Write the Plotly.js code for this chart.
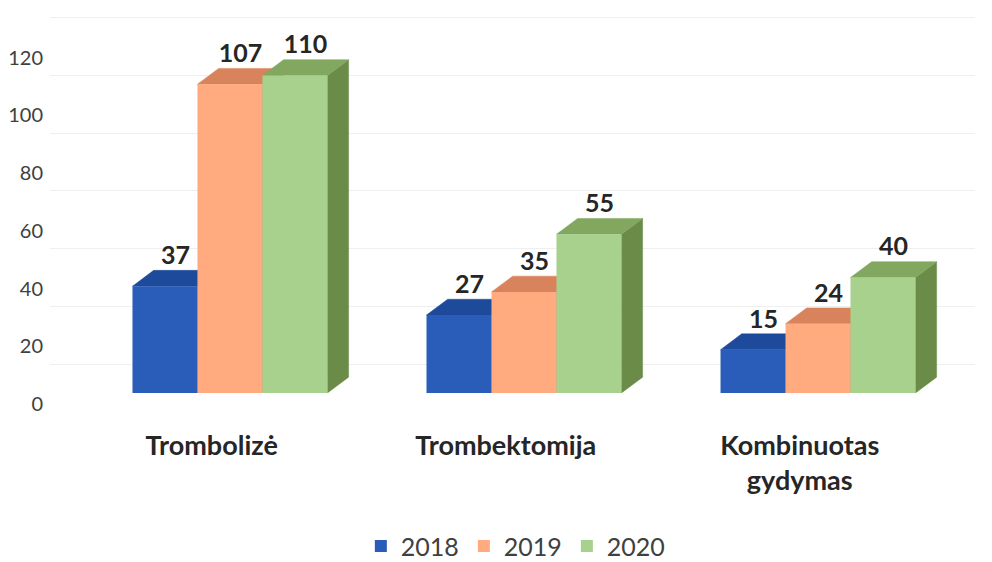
<!DOCTYPE html>
<html>
<head>
<meta charset="utf-8">
<script src="https://cdn.plot.ly/plotly-3.0.1.min.js"></script>
<style>
  html, body { margin: 0; padding: 0; background: #ffffff; }
  #chart { width: 992px; height: 562px; }
</style>
</head>
<body>
<div id="chart"></div>
<script>
// ---- data ----
const categories = ['Trombolizė', 'Trombektomija', 'Kombinuotas<br>gydymas'];
const years = ['2018', '2019', '2020'];
const values2018 = [37, 27, 15];
const values2019 = [107, 35, 24];
const values2020 = [110, 55, 40];
const yTicks = [0, 20, 40, 60, 80, 100, 120];

// ---- style ----
const series = [values2018, values2019, values2020];
const frontColors = ['#2a5cb9', '#ffab7f', '#a9d18e'];
const topColors = ['#1e4a9c', '#d8835c', '#82a75e'];
const sideColors = ['#1a3f86', '#c4704b', '#6a8c48'];
const barW = 0.221;      // width of one bar (x units)
const depthX = 0.072;    // 3D depth, x units
const depthY = 5.5;      // 3D depth, y units
const FONT = 'Lato, "Open Sans", sans-serif';

const xPos = categories.map((c, i) => i);
const traces = [];

// 3D faces (side + top) on the base subplot, beneath the front faces
series.forEach((vals, s) => {
  const off = (-1.5 + s) * barW;
  vals.forEach((v, i) => {
    const xl = xPos[i] + off, xr = xl + barW;
    traces.push({
      type: 'scatter', mode: 'lines', xaxis: 'x', yaxis: 'y',
      x: [xr, xr + depthX, xr + depthX, xr, xr],
      y: [0, depthY, v + depthY, v, 0],
      fill: 'toself', fillcolor: sideColors[s],
      line: {color: sideColors[s], width: 0.5},
      hoverinfo: 'skip', showlegend: false
    });
    traces.push({
      type: 'scatter', mode: 'lines', xaxis: 'x', yaxis: 'y',
      x: [xl, xl + depthX, xr + depthX, xr, xl],
      y: [v, v + depthY, v + depthY, v, v],
      fill: 'toself', fillcolor: topColors[s],
      line: {color: topColors[s], width: 0.5},
      hoverinfo: 'skip', showlegend: false
    });
  });
});

// front faces as bars (overlay subplot, drawn above the faces)
series.forEach((vals, s) => {
  traces.push({
    type: 'bar', name: years[s], x: xPos, y: vals, xaxis: 'x', yaxis: 'y2',
    width: barW, offset: (-1.5 + s) * barW,
    marker: {color: frontColors[s], line: {width: 0}},
    hoverinfo: 'name+y'
  });
});

// value labels
series.forEach((vals, s) => {
  const off = (-1.5 + s) * barW;
  traces.push({
    type: 'scatter', mode: 'text', xaxis: 'x', yaxis: 'y2',
    x: vals.map((v, i) => xPos[i] + off + barW / 2 + depthX / 2),
    y: vals.map(v => v + depthY),
    text: vals.map(v => String(v)),
    textposition: 'top center',
    textfont: {family: FONT, size: 25, color: '#262626', weight: 'bold'},
    cliponaxis: false, hoverinfo: 'skip', showlegend: false
  });
});

// invisible trace to carry the back-wall grid axis
traces.push({
  type: 'scatter', mode: 'markers', x: [xPos[0]], y: [yTicks[0]],
  xaxis: 'x', yaxis: 'y3', marker: {opacity: 0}, hoverinfo: 'skip', showlegend: false
});

const gridShift = 10.05; // back-wall offset in y units

const layout = {
  width: 992, height: 562,
  margin: {l: 50, r: 17, t: 15, b: 169, autoexpand: false},
  paper_bgcolor: '#ffffff', plot_bgcolor: 'rgba(0,0,0,0)',
  barmode: 'overlay',
  showlegend: true,
  legend: {
    orientation: 'h', xref: 'container', yref: 'container',
    x: 0.52, xanchor: 'center', y: 0.028, yanchor: 'middle',
    font: {family: FONT, size: 25, color: '#404040'},
    traceorder: 'normal'
  },
  xaxis: {
    range: [-0.612, 2.534],
    tickvals: xPos.map(p => p - 0.062),
    ticktext: categories,
    showgrid: false, zeroline: false, showline: false, ticks: '',
    ticklabelstandoff: 34, automargin: false,
    tickfont: {family: FONT, size: 27, color: '#262626', weight: 'bold'},
    fixedrange: true
  },
  yaxis: {
    range: [0, 131],
    showgrid: false, zeroline: false, showline: false, showticklabels: false, ticks: '',
    automargin: false, fixedrange: true
  },
  yaxis2: {
    overlaying: 'y', range: [0, 131], side: 'left',
    tickvals: yTicks, ticktext: yTicks.map(String),
    showgrid: false, zeroline: false, showline: false, ticks: '',
    ticklabelshift: 11, ticklabelstandoff: 6, automargin: false,
    tickfont: {family: FONT, size: 20, color: '#404040'},
    fixedrange: true
  },
  yaxis3: {
    overlaying: 'y', range: [-gridShift, 131 - gridShift],
    tickvals: yTicks,
    showticklabels: false, ticks: '',
    showgrid: true, gridcolor: '#efefef', gridwidth: 1,
    zeroline: false, showline: false, automargin: false, fixedrange: true
  }
};

Plotly.newPlot('chart', traces, layout, {displayModeBar: false, responsive: false});
</script>
</body>
</html>
